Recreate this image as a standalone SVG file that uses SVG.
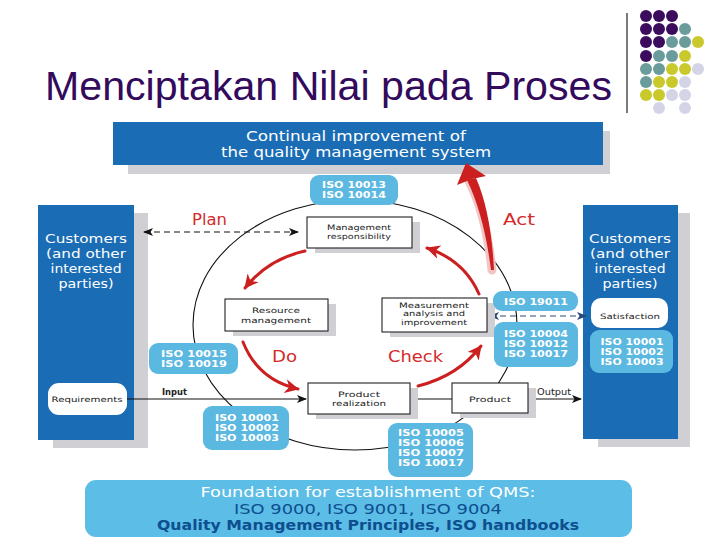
<svg xmlns="http://www.w3.org/2000/svg" width="720" height="540" viewBox="0 0 720 540">
<defs>
<style>
.title{font-family:"Liberation Sans",Arial,sans-serif;font-size:41px;fill:#330a5c}
.dk{fill:#1a6cb4}
.lb{fill:#5bb8e0}
.sh{fill:#cfcfd4}
.box{fill:#fff;stroke:#222;stroke-width:1.1}
.cust{font-family:"DejaVu Sans",sans-serif;font-size:13px;fill:#fff;text-anchor:middle}
.ban{font-family:"DejaVu Sans",sans-serif;font-size:13.5px;fill:#fff;text-anchor:middle}
.iso{font-family:"DejaVu Sans",sans-serif;font-weight:bold;font-size:8.5px;fill:#fff;text-anchor:middle}
.sm{font-family:"DejaVu Sans",sans-serif;font-size:7.4px;fill:#222;text-anchor:middle}
.red{font-family:"DejaVu Sans",sans-serif;font-size:16px;fill:#d42a2a}
.found{font-family:"DejaVu Sans",sans-serif;font-size:13.8px;text-anchor:middle}
.rarr{fill:none;stroke:#cc1f1f;stroke-width:3;stroke-linecap:round}
.P{fill:#3b0b5e}.T{fill:#6b9c9c}.Y{fill:#c9c92c}.L{fill:#d4d4e6}
</style>
<marker id="rhead" markerUnits="userSpaceOnUse" markerWidth="16" markerHeight="14" refX="13" refY="7" orient="auto">
<path d="M0,0 L14,7 L0,14 L4,7 Z" fill="#cc1f1f"/>
</marker>
<marker id="bhead" markerUnits="userSpaceOnUse" markerWidth="10" markerHeight="8" refX="9" refY="4" orient="auto-start-reverse">
<path d="M0,0 L10,4 L0,8 L2.5,4 Z" fill="#111"/>
</marker>
<marker id="uhead" markerUnits="userSpaceOnUse" markerWidth="10" markerHeight="8" refX="9" refY="4" orient="auto-start-reverse">
<path d="M0,0 L10,4 L0,8 L2.5,4 Z" fill="#2a4a7a"/>
</marker>
</defs>
<rect x="0" y="0" width="720" height="540" fill="#fff"/>

<g id="title">
<text class="title" x="45" y="100" textLength="567" lengthAdjust="spacingAndGlyphs">Menciptakan Nilai pada Proses</text>
<line x1="627" y1="13" x2="627" y2="113" stroke="#222" stroke-width="1.2"/>
</g>

<g id="dots">
<circle class="P" cx="646" cy="16" r="6"/><circle class="P" cx="659" cy="16" r="6"/><circle class="P" cx="672" cy="16" r="6"/>
<circle class="P" cx="646" cy="29" r="6"/><circle class="P" cx="659" cy="29" r="6"/><circle class="P" cx="672" cy="29" r="6"/><circle class="T" cx="685" cy="29" r="6"/>
<circle class="P" cx="646" cy="42" r="6"/><circle class="P" cx="659" cy="42" r="6"/><circle class="T" cx="672" cy="42" r="6"/><circle class="T" cx="685" cy="42" r="6"/><circle class="Y" cx="698" cy="42" r="6"/>
<circle class="P" cx="646" cy="56" r="6"/><circle class="T" cx="659" cy="56" r="6"/><circle class="T" cx="672" cy="56" r="6"/><circle class="Y" cx="685" cy="56" r="6"/>
<circle class="T" cx="646" cy="69" r="6"/><circle class="T" cx="659" cy="69" r="6"/><circle class="Y" cx="672" cy="69" r="6"/><circle class="Y" cx="685" cy="69" r="6"/><circle class="L" cx="698" cy="69" r="6"/>
<circle class="T" cx="646" cy="82" r="6"/><circle class="Y" cx="659" cy="82" r="6"/><circle class="Y" cx="672" cy="82" r="6"/><circle class="L" cx="685" cy="82" r="6"/>
<circle class="Y" cx="646" cy="95" r="6"/><circle class="Y" cx="659" cy="95" r="6"/><circle class="L" cx="672" cy="95" r="6"/><circle class="L" cx="685" cy="95" r="6"/>
<circle class="L" cx="659" cy="108" r="6"/><circle class="L" cx="685" cy="108" r="6"/>
</g>

<g id="improvement">
<rect class="sh" x="128" y="131" width="482" height="43"/>
<rect class="dk" x="113" y="122" width="490" height="43"/>
<text class="ban" x="356" y="141" textLength="220" lengthAdjust="spacingAndGlyphs">Continual improvement of</text>
<text class="ban" x="356" y="157" textLength="270" lengthAdjust="spacingAndGlyphs">the quality management system</text>
</g>

<g id="customers-left">
<rect class="sh" x="53" y="213" width="95" height="235"/>
<rect class="dk" x="38" y="205" width="96" height="235"/>
<text class="cust" x="86" y="243" textLength="82" lengthAdjust="spacingAndGlyphs">Customers</text>
<text class="cust" x="86" y="258" textLength="80" lengthAdjust="spacingAndGlyphs">(and other</text>
<text class="cust" x="86" y="273" textLength="71" lengthAdjust="spacingAndGlyphs">interested</text>
<text class="cust" x="86" y="288" textLength="55" lengthAdjust="spacingAndGlyphs">parties)</text>
</g>

<g id="customers-right">
<rect class="sh" x="598" y="213" width="92" height="234"/>
<rect class="dk" x="583" y="205" width="95" height="234"/>
<text class="cust" x="630" y="243" textLength="82" lengthAdjust="spacingAndGlyphs">Customers</text>
<text class="cust" x="630" y="258" textLength="80" lengthAdjust="spacingAndGlyphs">(and other</text>
<text class="cust" x="630" y="273" textLength="71" lengthAdjust="spacingAndGlyphs">interested</text>
<text class="cust" x="630" y="288" textLength="55" lengthAdjust="spacingAndGlyphs">parties)</text>
</g>

<g id="cycle">
<ellipse cx="355" cy="325" rx="162" ry="125" fill="none" stroke="#111" stroke-width="1.1"/>
</g>

<g id="connectors">
<line x1="144" y1="232" x2="298" y2="232" stroke="#111" stroke-width="1.2" stroke-dasharray="6,4" marker-start="url(#bhead)" marker-end="url(#bhead)"/>
<line x1="490" y1="316" x2="586" y2="316" stroke="#2a4a7a" stroke-width="1.2" stroke-dasharray="6,4" marker-start="url(#uhead)" marker-end="url(#uhead)"/>
<line x1="127" y1="399" x2="306" y2="399" stroke="#111" stroke-width="1.2" marker-end="url(#bhead)"/>
<line x1="410" y1="399" x2="452" y2="399" stroke="#111" stroke-width="1.2"/>
<line x1="528" y1="399" x2="581" y2="399" stroke="#111" stroke-width="1.2" marker-end="url(#bhead)"/>
<path class="rarr" d="M305,251 Q268,259 245,288" marker-end="url(#rhead)"/>
<path class="rarr" d="M243,342 Q258,380 298,389" marker-end="url(#rhead)"/>
<path class="rarr" d="M418,386 Q458,376 481,346" marker-end="url(#rhead)"/>
<path class="rarr" d="M479,294 Q464,260 427,248" marker-end="url(#rhead)"/>
<path d="M469,181 Q486,214 492,270" fill="none" stroke="#f2c4c4" stroke-width="9" stroke-linecap="round"/>
<path d="M467,180 Q484,215 491,270 L494,270 Q491,212 476,178 Z" fill="#cc1f1f"/>
<path d="M466,163 L486,176 L472,179 L457,185 Z" fill="#cc1f1f"/>
</g>

<g id="labels">
<text class="red" x="192" y="225" textLength="35" lengthAdjust="spacingAndGlyphs">Plan</text>
<text class="red" x="503" y="225" textLength="32" lengthAdjust="spacingAndGlyphs">Act</text>
<text class="red" x="272" y="362" textLength="25" lengthAdjust="spacingAndGlyphs">Do</text>
<text class="red" x="388" y="362" textLength="55" lengthAdjust="spacingAndGlyphs">Check</text>
<text x="162" y="395" font-family="DejaVu Sans,sans-serif" font-size="9" font-weight="bold" fill="#222" textLength="25" lengthAdjust="spacingAndGlyphs">Input</text>
<text x="537" y="395" font-family="DejaVu Sans,sans-serif" font-size="9.5" fill="#222" textLength="34" lengthAdjust="spacingAndGlyphs">Output</text>
</g>

<g id="mgmt">
<rect class="sh" x="315" y="222" width="105" height="31"/>
<rect class="box" x="307" y="217" width="105" height="31"/>
<text class="sm" x="359" y="230" textLength="64" lengthAdjust="spacingAndGlyphs">Management</text>
<text class="sm" x="359" y="239" textLength="64" lengthAdjust="spacingAndGlyphs">responsibility</text>
</g>

<g id="resource">
<rect class="sh" x="233" y="304" width="103" height="32"/>
<rect class="box" x="225" y="299" width="103" height="32"/>
<text class="sm" x="276" y="313" textLength="48" lengthAdjust="spacingAndGlyphs">Resource</text>
<text class="sm" x="276" y="322.5" textLength="70" lengthAdjust="spacingAndGlyphs">management</text>
</g>

<g id="measurement">
<rect class="sh" x="390" y="303" width="105" height="34"/>
<rect class="box" x="382" y="298" width="105" height="34"/>
<text class="sm" x="434" y="307.5" textLength="70" lengthAdjust="spacingAndGlyphs">Measurement</text>
<text class="sm" x="434" y="316.2" textLength="62" lengthAdjust="spacingAndGlyphs">analysis and</text>
<text class="sm" x="434" y="324.9" textLength="66" lengthAdjust="spacingAndGlyphs">improvement</text>
</g>

<g id="realization">
<rect class="sh" x="316" y="388" width="102" height="31"/>
<rect class="box" x="308" y="383" width="102" height="31"/>
<text class="sm" x="359" y="397" textLength="42" lengthAdjust="spacingAndGlyphs">Product</text>
<text class="sm" x="359" y="406" textLength="54" lengthAdjust="spacingAndGlyphs">realization</text>
</g>

<g id="product">
<rect class="sh" x="460" y="388" width="76" height="30"/>
<rect class="box" x="452" y="383" width="76" height="30"/>
<text class="sm" x="490" y="401.5" textLength="42" lengthAdjust="spacingAndGlyphs">Product</text>
</g>

<g id="requirements">
<rect x="48" y="383" width="79" height="32" rx="11" fill="#fff"/>
<text class="sm" x="87" y="401.5" textLength="71" lengthAdjust="spacingAndGlyphs">Requirements</text>
</g>

<g id="satisfaction">
<rect x="591" y="298" width="77" height="30" rx="10" fill="#fff"/>
<text class="sm" x="630" y="318.5" textLength="60" lengthAdjust="spacingAndGlyphs">Satisfaction</text>
</g>

<g id="iso-10013">
<rect class="lb" x="310" y="175" width="88" height="30" rx="9"/>
<text class="iso" x="354" y="188" textLength="64" lengthAdjust="spacingAndGlyphs">ISO 10013</text>
<text class="iso" x="354" y="198" textLength="64" lengthAdjust="spacingAndGlyphs">ISO 10014</text>
</g>

<g id="iso-10015">
<rect class="lb" x="149" y="343" width="89" height="31" rx="9"/>
<text class="iso" x="194" y="357" textLength="66" lengthAdjust="spacingAndGlyphs">ISO 10015</text>
<text class="iso" x="194" y="367" textLength="66" lengthAdjust="spacingAndGlyphs">ISO 10019</text>
</g>

<g id="iso-10001-left">
<rect class="lb" x="203" y="406" width="86" height="44" rx="9"/>
<text class="iso" x="247" y="421" textLength="64" lengthAdjust="spacingAndGlyphs">ISO 10001</text>
<text class="iso" x="247" y="431" textLength="64" lengthAdjust="spacingAndGlyphs">ISO 10002</text>
<text class="iso" x="247" y="441" textLength="64" lengthAdjust="spacingAndGlyphs">ISO 10003</text>
</g>

<g id="iso-10005">
<rect class="lb" x="388" y="423" width="85" height="54" rx="9"/>
<text class="iso" x="431" y="436" textLength="66" lengthAdjust="spacingAndGlyphs">ISO 10005</text>
<text class="iso" x="431" y="446" textLength="66" lengthAdjust="spacingAndGlyphs">ISO 10006</text>
<text class="iso" x="431" y="456" textLength="66" lengthAdjust="spacingAndGlyphs">ISO 10007</text>
<text class="iso" x="431" y="466" textLength="66" lengthAdjust="spacingAndGlyphs">ISO 10017</text>
</g>

<g id="iso-19011">
<rect class="lb" x="493" y="291" width="85" height="20" rx="9"/>
<text class="iso" x="536" y="304.5" textLength="64" lengthAdjust="spacingAndGlyphs">ISO 19011</text>
</g>

<g id="iso-10004">
<rect class="lb" x="494" y="322" width="84" height="45" rx="9"/>
<text class="iso" x="536" y="337" textLength="64" lengthAdjust="spacingAndGlyphs">ISO 10004</text>
<text class="iso" x="536" y="347" textLength="64" lengthAdjust="spacingAndGlyphs">ISO 10012</text>
<text class="iso" x="536" y="357" textLength="64" lengthAdjust="spacingAndGlyphs">ISO 10017</text>
</g>

<g id="iso-10001-right">
<rect class="lb" x="590" y="330" width="83" height="43" rx="9"/>
<text class="iso" x="632" y="345" textLength="63" lengthAdjust="spacingAndGlyphs">ISO 10001</text>
<text class="iso" x="632" y="355" textLength="63" lengthAdjust="spacingAndGlyphs">ISO 10002</text>
<text class="iso" x="632" y="365" textLength="63" lengthAdjust="spacingAndGlyphs">ISO 10003</text>
</g>

<g id="foundation">
<rect x="85" y="480" width="547" height="57" rx="11" fill="#5cbde6"/>
<text class="found" x="368" y="497" fill="#fff" textLength="335" lengthAdjust="spacingAndGlyphs">Foundation for establishment of QMS:</text>
<text class="found" x="368" y="513.5" fill="#0d4f8f" textLength="268" lengthAdjust="spacingAndGlyphs">ISO 9000, ISO 9001, ISO 9004</text>
<text class="found" x="368" y="530" fill="#0d4f8f" font-weight="bold" textLength="422" lengthAdjust="spacingAndGlyphs">Quality Management Principles, ISO handbooks</text>
</g>
</svg>
